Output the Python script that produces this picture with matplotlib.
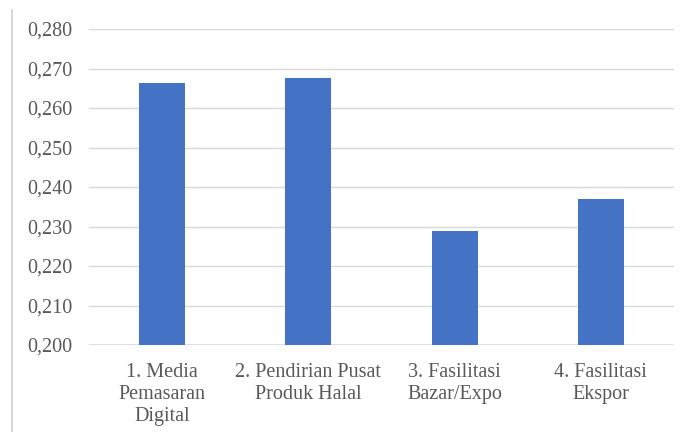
import matplotlib
matplotlib.use("Agg")
import matplotlib.pyplot as plt
from matplotlib.lines import Line2D
from matplotlib.ticker import MultipleLocator, FuncFormatter

categories = ["1. Media\nPemasaran\nDigital", "2. Pendirian Pusat\nProduk Halal",
              "3. Fasilitasi\nBazar/Expo", "4. Fasilitasi\nEkspor"]
values = [0.2663, 0.2677, 0.2289, 0.2370]

plt.rcParams['font.family'] = 'serif'
plt.rcParams['font.serif'] = ['Liberation Serif', 'Times New Roman', 'DejaVu Serif']
txt = '#595959'

fig = plt.figure(figsize=(6.85, 4.32), dpi=100)
ax = fig.add_axes([89/685, 1-345/432, (674-89)/685, (345-29)/432])

x = range(len(categories))
ax.bar(x, values, width=0.315, color='#4472C4', zorder=3)
ax.set_xlim(-0.5, len(categories)-0.5)
ax.set_ylim(0.200, 0.280)
ax.yaxis.set_major_locator(MultipleLocator(0.01))
ax.yaxis.set_major_formatter(FuncFormatter(lambda v, p: f"{v:.3f}".replace('.', ',')))
ax.grid(axis='y', color='#D9D9D9', linewidth=1, zorder=0)
for s in ax.spines.values():
    s.set_visible(False)
ax.axhline(0.200, color='#D9D9D9', linewidth=1.2, zorder=2)
ax.set_xticks(list(x))
ax.set_xticklabels(categories, linespacing=1.22)
ax.tick_params(axis='both', length=0, labelsize=14.5, colors=txt)
ax.tick_params(axis='y', pad=12)
ax.tick_params(axis='x', pad=13)

# thin frame line at left edge of the picture
fig.add_artist(Line2D([12/685, 12/685], [0, 1-10/432], color='#D0D0D0', linewidth=1.2))

fig.savefig("out.png", dpi=100)
